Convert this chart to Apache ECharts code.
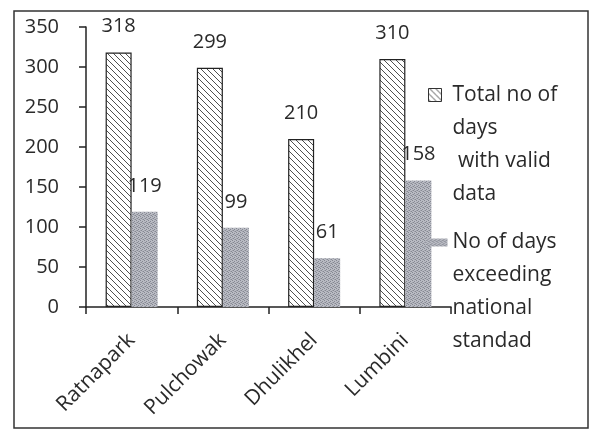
<!DOCTYPE html>
<html>
<head>
<meta charset="utf-8">
<script src="https://cdn.jsdelivr.net/npm/echarts@6/dist/echarts.min.js"></script>
<style>
html,body{margin:0;padding:0;background:#fff;}
#chart{width:593px;height:433px;}
</style>
</head>
<body>
<div id="chart"></div>
<script>
// ---- data ----
var categories = ['Ratnapark', 'Pulchowak', 'Dhulikhel', 'Lumbini'];
var totalValidDays = [318, 299, 210, 310];
var exceedingDays = [119, 99, 61, 158];
var seriesNames = ['Total no of\ndays\n with valid\ndata', 'No of days\nexceeding\nnational\nstandad'];
var yTicks = [0, 50, 100, 150, 200, 250, 300, 350];

// ---- patterns ----
function hatchPattern() {
  var c = document.createElement('canvas');
  c.width = 6; c.height = 6;
  var g = c.getContext('2d');
  g.fillStyle = '#ffffff';
  g.fillRect(0, 0, 6, 6);
  g.strokeStyle = '#505050';
  g.lineWidth = 1;
  [-6, 0, 6].forEach(function (k) {
    g.beginPath();
    g.moveTo(k, 0);
    g.lineTo(k + 6, 6);
    g.stroke();
  });
  return c;
}
function stipplePattern() {
  var c = document.createElement('canvas');
  c.width = 4; c.height = 4;
  var g = c.getContext('2d');
  g.fillStyle = '#b9bbc3';
  g.fillRect(0, 0, 4, 4);
  g.fillStyle = '#858892';
  g.fillRect(0, 0, 1, 1);
  g.fillRect(2, 1, 1, 1);
  g.fillRect(1, 2, 1, 1);
  g.fillRect(3, 3, 1, 1);
  g.fillStyle = '#a0a2ab';
  g.fillRect(2, 3, 1, 1);
  g.fillRect(0, 2, 1, 1);
  return c;
}
var hatch = { image: hatchPattern(), repeat: 'repeat' };
var stipple = { image: stipplePattern(), repeat: 'repeat' };

var FONT = 'Open Sans';
var chart = echarts.init(document.getElementById('chart'), null, { renderer: 'canvas' });

var labelStyle = {
  show: true,
  position: 'top',
  distance: 16,
  fontFamily: FONT,
  fontSize: 20,
  color: '#2a2a2a'
};

chart.setOption({
  animation: false,
  backgroundColor: '#ffffff',
  textStyle: { fontFamily: FONT },
  grid: { left: 86, right: 142, top: 27, bottom: 126, containLabel: false },
  graphic: [{
    type: 'rect',
    shape: { x: 14, y: 11, width: 574, height: 417 },
    style: { fill: 'none', stroke: '#333', lineWidth: 1.5 },
    silent: true
  }],
  legend: {
    orient: 'vertical',
    left: 425,
    top: 78,
    padding: 0,
    itemGap: 15,
    itemWidth: 22,
    itemHeight: 132,
    selectedMode: false,
    textStyle: { fontFamily: FONT, fontSize: 21, lineHeight: 33, color: '#2a2a2a' },
    data: [
      { name: seriesNames[0], icon: 'path://M0,0 M22,132 M3,10h13v13h-13z',
        itemStyle: { color: hatch, borderColor: '#333', borderWidth: 1 } },
      { name: seriesNames[1], icon: 'path://M0,0 M22,132 M0,12.5h22v8h-22z',
        itemStyle: { color: stipple, borderWidth: 0 } }
    ]
  },
  xAxis: {
    type: 'category',
    data: categories,
    axisLine: { lineStyle: { color: '#222', width: 1.5 } },
    axisTick: { show: true, alignWithLabel: false, length: 7, lineStyle: { color: '#222', width: 1.5 } },
    axisLabel: { rotate: 45, margin: 30, fontFamily: FONT, fontSize: 21, color: '#2a2a2a', interval: 0 },
    splitLine: { show: false }
  },
  yAxis: {
    type: 'value',
    min: yTicks[0],
    max: yTicks[yTicks.length - 1],
    interval: yTicks[1] - yTicks[0],
    axisLine: { show: true, lineStyle: { color: '#222', width: 1.5 } },
    axisTick: { show: true, length: 7, lineStyle: { color: '#222', width: 1.5 } },
    axisLabel: { margin: 27, fontFamily: FONT, fontSize: 20, color: '#2a2a2a' },
    splitLine: { show: false }
  },
  series: [
    {
      name: seriesNames[0],
      type: 'bar',
      data: totalValidDays,
      barGap: '0%',
      barCategoryGap: '43%',
      itemStyle: { color: hatch, borderColor: '#222', borderWidth: 1.2 },
      label: labelStyle
    },
    {
      name: seriesNames[1],
      type: 'bar',
      data: exceedingDays,
      itemStyle: { color: stipple, borderWidth: 0 },
      label: labelStyle
    }
  ]
});
</script>
</body>
</html>
